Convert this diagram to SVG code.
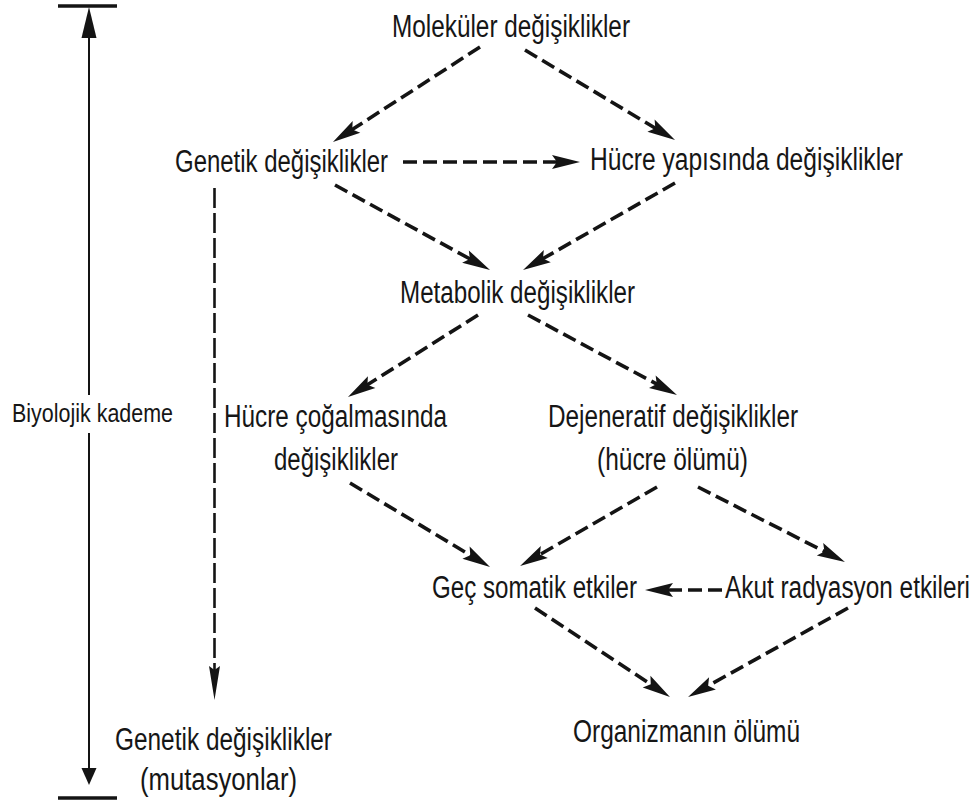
<svg xmlns="http://www.w3.org/2000/svg" width="979" height="808" viewBox="0 0 979 808">
  <style>
    .lbl { font-family: "Liberation Sans Narrow", "Liberation Sans", Arial, sans-serif; font-size: 31px; fill: #161616; }
    .side { font-size: 25px; }
    .dash { fill: none; stroke: #141414; stroke-width: 3.6; stroke-dasharray: 14 6; marker-end: url(#head); }
    .dashv { fill: none; stroke: #141414; stroke-width: 2.6; stroke-dasharray: 20 5; marker-end: url(#headLong); }
    .solid { stroke: #141414; stroke-width: 2; fill: none; }
    .bar { stroke: #141414; stroke-width: 3.5; }
    .tri { fill: #141414; }
  </style>
  <defs>
    <marker id="head" markerUnits="userSpaceOnUse" viewBox="-14 -9 32 18" markerWidth="32" markerHeight="18" refX="0" refY="0" orient="auto">
      <path d="M16,0 L-12,-7 L-7,0 L-12,7 Z" fill="#141414"/>
    </marker>
    <marker id="headLong" markerUnits="userSpaceOnUse" viewBox="-16 -7 38 14" markerWidth="38" markerHeight="14" refX="0" refY="0" orient="auto">
      <path d="M20,0 L-14,-5.5 L-10,0 L-14,5.5 Z" fill="#141414"/>
    </marker>
  </defs>

  <rect x="0" y="0" width="979" height="808" fill="#ffffff"/>

  <!-- biological scale bar on the left -->
  <g id="scale">
    <line class="bar" x1="58" y1="6" x2="117" y2="6"/>
    <line class="bar" x1="58" y1="798" x2="117" y2="798"/>
    <line class="solid" x1="89" y1="30" x2="89" y2="395"/>
    <line class="solid" x1="89" y1="433" x2="89" y2="775"/>
    <polygon class="tri" points="89,7 81.5,38 96.5,38"/>
    <polygon class="tri" points="89,785 81.5,768 96.5,768"/>
    <text class="lbl side" x="12" y="422" textLength="161" lengthAdjust="spacingAndGlyphs">Biyolojik kademe</text>
  </g>

  <!-- connectors -->
  <g id="connectors">
    <line class="dash" x1="480" y1="47" x2="346.4" y2="133.3"/>
    <line class="dash" x1="525" y1="50" x2="661.3" y2="131.8"/>
    <line class="dash" x1="403" y1="162" x2="564" y2="162"/>
    <line class="dash" x1="335" y1="185" x2="476" y2="262.3"/>
    <line class="dash" x1="675" y1="183" x2="536.9" y2="262.1"/>
    <line class="dash" x1="478" y1="315" x2="361.5" y2="388.5"/>
    <line class="dash" x1="528" y1="315" x2="662.9" y2="387.4"/>
    <line class="dash" x1="350" y1="483" x2="476.3" y2="558.8"/>
    <line class="dash" x1="657" y1="487" x2="533.9" y2="558"/>
    <line class="dash" x1="698" y1="487" x2="830.7" y2="554.7"/>
    <line class="dash" x1="722" y1="590" x2="661" y2="590"/>
    <line class="dash" x1="535" y1="608" x2="656.6" y2="688.2"/>
    <line class="dash" x1="848" y1="608" x2="702" y2="689.2"/>
    <line class="dashv" x1="214.5" y1="188" x2="214.5" y2="680"/>
  </g>

  <!-- nodes -->
  <g id="molekuler">
    <text class="lbl" x="392" y="37" textLength="238" lengthAdjust="spacingAndGlyphs">Moleküler değişiklikler</text>
  </g>
  <g id="genetik">
    <text class="lbl" x="175" y="172" textLength="213" lengthAdjust="spacingAndGlyphs">Genetik değişiklikler</text>
  </g>
  <g id="hucre-yapisi">
    <text class="lbl" x="590" y="170" textLength="313" lengthAdjust="spacingAndGlyphs">Hücre yapısında değişiklikler</text>
  </g>
  <g id="metabolik">
    <text class="lbl" x="400" y="303" textLength="235" lengthAdjust="spacingAndGlyphs">Metabolik değişiklikler</text>
  </g>
  <g id="hucre-cogalmasi">
    <text class="lbl" x="224" y="427" textLength="223" lengthAdjust="spacingAndGlyphs">Hücre çoğalmasında</text>
    <text class="lbl" x="274" y="470" textLength="124" lengthAdjust="spacingAndGlyphs">değişiklikler</text>
  </g>
  <g id="dejeneratif">
    <text class="lbl" x="548" y="427" textLength="250" lengthAdjust="spacingAndGlyphs">Dejeneratif değişiklikler</text>
    <text class="lbl" x="597" y="470" textLength="151" lengthAdjust="spacingAndGlyphs">(hücre ölümü)</text>
  </g>
  <g id="gec-somatik">
    <text class="lbl" x="432" y="598" textLength="205" lengthAdjust="spacingAndGlyphs">Geç somatik etkiler</text>
  </g>
  <g id="akut">
    <text class="lbl" x="725" y="598" textLength="245" lengthAdjust="spacingAndGlyphs">Akut radyasyon etkileri</text>
  </g>
  <g id="genetik-mutasyon">
    <text class="lbl" x="115" y="750" textLength="217" lengthAdjust="spacingAndGlyphs">Genetik değişiklikler</text>
    <text class="lbl" x="140" y="790" textLength="157" lengthAdjust="spacingAndGlyphs">(mutasyonlar)</text>
  </g>
  <g id="organizma">
    <text class="lbl" x="573" y="742" textLength="227" lengthAdjust="spacingAndGlyphs">Organizmanın ölümü</text>
  </g>
</svg>
